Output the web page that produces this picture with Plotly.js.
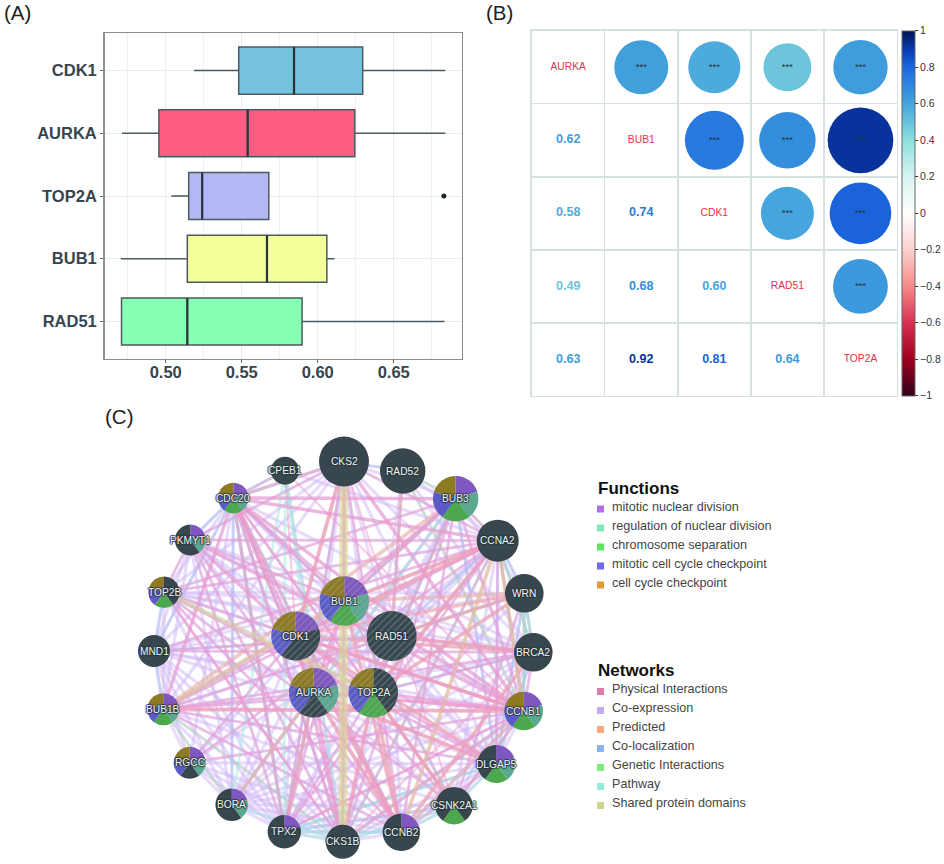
<!DOCTYPE html>
<html><head><meta charset="utf-8">
<script src="https://cdn.plot.ly/plotly-3.0.1.min.js"></script>
<style>html,body{margin:0;padding:0;background:#fff}#chart{width:944px;height:864px}</style>
</head><body><div id="chart"></div>
<script>
// ---------- Panel A data ----------
const boxGenes = ["CDK1","AURKA","TOP2A","BUB1","RAD51"];
const boxLower = [0.5186,0.4712,0.5037,0.4704,0.4709];
const boxQ1    = [0.548,0.4955,0.5151,0.5142,0.4709];
const boxMed   = [0.5844,0.5539,0.524,0.5666,0.5142];
const boxQ3    = [0.6296,0.6244,0.5678,0.606,0.5897];
const boxUpper = [0.684,0.684,0.5678,0.611,0.6834];
const boxColors = ["#75C2DF","#FE5C82","#B3B8F4","#F3FF99","#85FFB2"];
const outlierGene = "TOP2A", outlierValue = 0.683;
// ---------- Panel B data ----------
const corrGenes = ["AURKA","BUB1","CDK1","RAD51","TOP2A"];
const corrRows = [
  [1,0.62,0.58,0.49,0.63],
  [0.62,1,0.74,0.68,0.92],
  [0.58,0.74,1,0.60,0.81],
  [0.49,0.68,0.60,1,0.64],
  [0.63,0.92,0.81,0.64,1]];
const corrTicks = [-1,-0.8,-0.6,-0.4,-0.2,0,0.2,0.4,0.6,0.8,1];
const corrScale = [[-1,"#30001a"],[-0.8,"#a00020"],[-0.6,"#d63050"],[-0.4,"#f58a8a"],[-0.2,"#fbd0d0"],[0,"#ffffff"],
  [0.2,"#d8f4f2"],[0.4,"#8de0dc"],[0.6,"#45a5dc"],[0.8,"#1c68e0"],[0.9,"#0a3ab0"],[1,"#00154f"]];
// ---------- Panel C data ----------
const nodeNames = ["CKS2","RAD52","BUB3","CCNA2","WRN","BRCA2","CCNB1","DLGAP5","CSNK2A1","CCNB2","CKS1B","TPX2","BORA","RGCC","BUB1B","MND1","TOP2B","PKMYT1","CDC20","CPEB1","BUB1","CDK1","RAD51","AURKA","TOP2A"];
const nodeX = [344,402.7,455.7,497.7,524.3,533.3,523.7,496.3,454,401.3,342.7,284.3,231.7,189.7,163.3,154,164,190.3,233.3,285,344.3,295.7,391.7,313.7,373.3];
const nodeY = [461.5,471,498.7,540.7,593.3,652.3,711,764,805.7,832.3,841.7,831.7,804.7,762.7,709.3,651,592.3,540,498,470.7,601,636,636,692.7,692.7];
const nodeR = [25,22.7,22.7,21,19.3,19.3,19.3,19,18.7,18.7,17,16.7,16.3,16,16,16,15.7,15.5,15.3,14,24.7,24.5,25,24.7,24.7];
const queryGenes = ["BUB1","CDK1","RAD51","AURKA","TOP2A"];
const functionNames = ["mitotic nuclear division","regulation of nuclear division","chromosome separation","mitotic cell cycle checkpoint","cell cycle checkpoint"];
const functionKeys = ["#B36BF0","#7DE8B8","#5CE85C","#6B6BF0","#E59A2E"];
const sliceColors = ["#7F57C0","#5BA890","#4CA84C","#5B5BC8","#8E7A22"];
const nodeDark = "#37474D";
const functionMembers = [
  "BUB3 CCNB1 DLGAP5 CCNB2 TPX2 BORA RGCC BUB1B PKMYT1 CDC20 BUB1 CDK1 AURKA",
  "BUB3 CCNB1 DLGAP5 BORA RGCC BUB1B PKMYT1 CDC20 BUB1 AURKA",
  "BUB3 CCNB1 DLGAP5 CSNK2A1 BUB1B TOP2B CDC20 BUB1 TOP2A",
  "BUB3 CCNB1 RGCC BUB1B TOP2B CDC20 BUB1 CDK1 AURKA TOP2A",
  "BUB3 CCNB1 RGCC BUB1B TOP2B CDC20 BUB1 CDK1 AURKA TOP2A"];
const networkNames = ["Physical Interactions","Co-expression","Predicted","Co-localization","Genetic Interactions","Pathway","Shared protein domains"];
const networkKeys = ["#E07BAC","#C4A8F0","#F5A878","#8AB4F0","#7BEE7B","#8FEFDC","#CDD48A"];
// edge lists: first gene of each row is linked to each of the others
const coexpression = [
 "CKS2 RAD52 BUB3 CCNA2 BRCA2 CCNB1 DLGAP5 CCNB2 CKS1B TPX2 BUB1B TOP2B PKMYT1 CDC20 BUB1 CDK1 RAD51 AURKA TOP2A MND1",
 "RAD52 BUB3 CCNA2 CCNB1 RAD51 BRCA2 TOP2A",
 "BUB3 CCNA2 WRN CCNB1 DLGAP5 CCNB2 CKS1B TPX2 BORA BUB1B TOP2B CDC20 BUB1 CDK1 AURKA TOP2A RAD51",
 "CCNA2 WRN BRCA2 CCNB1 DLGAP5 CSNK2A1 CCNB2 CKS1B TPX2 BORA RGCC BUB1B MND1 TOP2B PKMYT1 CDC20 CPEB1 BUB1 CDK1 RAD51 AURKA TOP2A",
 "WRN BRCA2 CCNB1 DLGAP5 CSNK2A1 TPX2 BUB1B MND1 TOP2B BUB1 RAD51 TOP2A",
 "BRCA2 CCNB1 DLGAP5 CSNK2A1 CCNB2 TPX2 BORA BUB1B MND1 TOP2B PKMYT1 CDC20 BUB1 CDK1 RAD51 AURKA TOP2A",
 "CCNB1 DLGAP5 CSNK2A1 CCNB2 CKS1B TPX2 BORA RGCC BUB1B MND1 TOP2B PKMYT1 CDC20 BUB1 CDK1 RAD51 AURKA TOP2A",
 "DLGAP5 CSNK2A1 CCNB2 CKS1B TPX2 BORA RGCC BUB1B MND1 TOP2B PKMYT1 CDC20 BUB1 CDK1 RAD51 AURKA TOP2A",
 "CSNK2A1 CCNB2 CKS1B TPX2 BORA BUB1B TOP2B BUB1 CDK1 AURKA TOP2A",
 "CCNB2 CKS1B TPX2 BORA RGCC BUB1B MND1 TOP2B PKMYT1 CDC20 BUB1 CDK1 RAD51 AURKA TOP2A",
 "CKS1B TPX2 BORA RGCC BUB1B MND1 TOP2B PKMYT1 CDC20 CPEB1 BUB1 CDK1 RAD51 AURKA TOP2A",
 "TPX2 BORA RGCC BUB1B MND1 TOP2B PKMYT1 CDC20 BUB1 CDK1 RAD51 AURKA TOP2A",
 "BORA RGCC BUB1B MND1 PKMYT1 CDC20 BUB1 CDK1 AURKA TOP2A",
 "RGCC BUB1B MND1 CDC20 BUB1 CDK1 RAD51",
 "BUB1B MND1 TOP2B PKMYT1 CDC20 BUB1 CDK1 RAD51 AURKA TOP2A",
 "MND1 TOP2B PKMYT1 CDC20 BUB1 RAD51 TOP2A",
 "TOP2B PKMYT1 CDC20 BUB1 CDK1 RAD51 TOP2A",
 "PKMYT1 CDC20 BUB1 CDK1 RAD51 AURKA TOP2A",
 "CDC20 CPEB1 BUB1 CDK1 RAD51 AURKA TOP2A",
 "BUB1 CDK1 RAD51 AURKA TOP2A","CDK1 RAD51 AURKA TOP2A","RAD51 AURKA TOP2A","AURKA TOP2A"];
const colocalization = [
 "CCNA2 WRN BRCA2 DLGAP5 RAD51 TOP2A CCNB1","WRN BRCA2 RAD51 CCNB1 DLGAP5","BRCA2 RAD51 TOP2A DLGAP5",
 "CDC20 MND1 BORA PKMYT1 CKS1B TPX2 BUB1","TPX2 DLGAP5 CSNK2A1 CCNB2 AURKA","MND1 TOP2B RAD51 BUB1B","BUB3 TOP2A BUB1 DLGAP5","CKS2 TPX2 CKS1B RAD52"];
const pathway = [
 "CPEB1 CDC20 CKS1B TPX2 BORA AURKA","CDC20 CCNB2 CKS2 AURKA TPX2","CSNK2A1 DLGAP5 TOP2A CCNB1 CCNB2 CKS1B",
 "CKS1B CCNA2 CCNB1 BORA TPX2","BUB3 BUB1 AURKA TOP2A","TPX2 AURKA CCNB2 DLGAP5","BUB1 CSNK2A1 CDK1"];
const genetic = ["RAD52 BUB3 RAD51 CCNB1","CCNA2 BRCA2 CCNB1 BUB3","BUB1B BORA CKS1B","AURKA BORA","WRN CCNB1 BRCA2"];
const predicted = ["CDK1 CCNA2 CCNB1 CCNB2 CKS2 DLGAP5","WRN TOP2A RAD51 CDK1 BUB1","BRCA2 RAD51 CCNB2 CDK1","BUB1 CCNA2 CCNB2","CCNA2 CCNB2 CCNB1 TOP2A","TOP2A CCNB2 CSNK2A1 CKS1B","AURKA CCNB2 DLGAP5 TPX2","BUB1B BUB3 CCNB1"];
const physicalHeavy = [
 "CDK1 CKS2 CKS1B CCNB1 CCNB2 CCNA2 CDC20 PKMYT1 TOP2A BUB3",
 "AURKA TPX2 BORA BUB1 CKS1B CCNB1 DLGAP5 CDC20 CCNB2",
 "BUB1 BUB3 BUB1B CDC20 CCNB1 CCNA2 CKS2",
 "CDC20 BUB1B BUB3 CCNB1 CCNA2 CCNB2 CKS2 CKS1B TPX2",
 "RAD51 RAD52 BRCA2 TOP2A",
 "CCNB1 CKS2 CKS1B CCNB2 PKMYT1 TOP2A BUB1B",
 "TOP2A CKS1B CCNA2 BUB3 CSNK2A1"];
const physicalLight = [
 "PKMYT1 CCNB2 TPX2 CCNA2 BUB1 TOP2B CKS2",
 "TOP2B CCNB1 CCNB2 CKS1B BUB3 DLGAP5 CSNK2A1",
 "MND1 RAD51 CCNA2 BRCA2",
 "BUB1B CCNA2 AURKA TOP2A CDK1 CCNB2 RAD51 BRCA2",
 "TPX2 CCNB1 CCNA2 CKS2 BUB1 TOP2A",
 "DLGAP5 CCNB2 BUB1B CDK1 CCNA2 TOP2A",
 "CSNK2A1 CDK1 CKS2 BUB1 CCNB1 CDC20",
 "CKS1B CKS2 CCNA2 BUB3","BRCA2 CKS1B TOP2A CDK1 CCNB1 CCNB2",
 "WRN RAD51 TOP2A CDK1 CSNK2A1","RGCC CDK1 CCNB1 CCNA2","CPEB1 CDK1 CCNB1 CDC20",
 "CCNA2 CKS2 BUB3 TOP2B CCNB1","CCNB1 BUB3 TPX2 CSNK2A1 AURKA","CKS1B TOP2B PKMYT1 BUB1","CCNB2 CKS2 BUB3 BUB1 TOP2A","CDC20 TOP2A AURKA RAD51"];
const sharedHeavy = ["CKS2 CKS1B"];
const sharedMedium = ["BUB1 BUB1B","TOP2A TOP2B"];
const sharedLight = ["CCNA2 CCNB1 CCNB2","CCNB1 CCNB2","AURKA BORA"];

// ---------- helpers ----------
const W = 944, H = 864;
const hex = s => [1,3,5].map(i => parseInt(s.substr(i,2),16));
function corrColor(v){
  for(let i=1;i<corrScale.length;i++){
    if(v<=corrScale[i][0]){
      const a=corrScale[i-1],b=corrScale[i],t=(v-a[0])/(b[0]-a[0]);
      const c=hex(a[1]),d=hex(b[1]);
      return "rgb("+c.map((x,k)=>Math.round(x+(d[k]-x)*t)).join(",")+")";
    }
  }
  return corrScale[corrScale.length-1][1];
}
const traces = [];
const annotations = [];

// ---------- Panel A ----------
boxGenes.forEach((g,i)=>{
  traces.push({type:"box",orientation:"h",xaxis:"x",yaxis:"y",y:[i],q1:[boxQ1[i]],median:[boxMed[i]],q3:[boxQ3[i]],
    lowerfence:[boxLower[i]],upperfence:[boxUpper[i]],width:0.75,whiskerwidth:0,fillcolor:boxColors[i],
    line:{color:"#4c5a5f",width:1.5},boxpoints:false,hoverinfo:"skip",showlegend:false});
  traces.push({type:"scatter",mode:"lines",xaxis:"x",yaxis:"y",x:[boxMed[i],boxMed[i]],y:[i-0.375,i+0.375],
    line:{color:"#26343a",width:2.2},hoverinfo:"skip",showlegend:false});
});
traces.push({type:"scatter",mode:"markers",xaxis:"x",yaxis:"y",x:[outlierValue],y:[boxGenes.indexOf(outlierGene)],
  marker:{color:"#1c262a",size:5},hoverinfo:"skip",showlegend:false});

// ---------- Panel B ----------
const upX=[],upY=[],upV=[],lowX=[],lowY=[],lowV=[],diagX=[],diagY=[],diagT=[];
corrRows.forEach((row,r)=>row.forEach((v,c)=>{
  if(c>r){upX.push(c+0.5);upY.push(r+0.5);upV.push(v);}
  else if(c<r){lowX.push(c+0.5);lowY.push(r+0.5);lowV.push(v);}
  else{diagX.push(c+0.5);diagY.push(r+0.5);diagT.push(corrGenes[r]);}
}));
traces.push({type:"scatter",mode:"markers",xaxis:"x2",yaxis:"y2",x:upX,y:upY,hoverinfo:"skip",showlegend:false,
  marker:{size:upV,sizemode:"area",sizeref:2/(68.5*68.5),opacity:1,color:upV,cmin:-1,cmax:1,
    colorscale:corrScale.map(s=>[(s[0]+1)/2,s[1]]),line:{width:0},
    colorbar:{x:902.3/W,xanchor:"left",y:1-30.7/H,yanchor:"top",lenmode:"pixels",len:365.3,thicknessmode:"pixels",thickness:13,
      xpad:0,ypad:0,tickmode:"array",tickvals:corrTicks,ticks:"outside",ticklen:3,tickcolor:"#333",tickwidth:1,
      outlinecolor:"#666",outlinewidth:1,tickfont:{family:"Liberation Sans",size:10.5,color:"#333"}}}});
traces.push({type:"scatter",mode:"text",xaxis:"x2",yaxis:"y2",x:upX,y:upY,text:upV.map(()=>"***"),textposition:"middle center",
  textfont:{family:"Liberation Sans",size:9.5,color:"#26343a"},hoverinfo:"skip",showlegend:false});
traces.push({type:"scatter",mode:"text",xaxis:"x2",yaxis:"y2",x:lowX,y:lowY,text:lowV.map(v=>v.toFixed(2)),textposition:"middle center",
  textfont:{family:"Liberation Sans",size:12.5,weight:"bold",color:lowV.map(corrColor)},hoverinfo:"skip",showlegend:false});
traces.push({type:"scatter",mode:"text",xaxis:"x2",yaxis:"y2",x:diagX,y:diagY,text:diagT,textposition:"middle center",
  textfont:{family:"Liberation Sans",size:10.3,color:"#E8304A"},hoverinfo:"skip",showlegend:false});

// ---------- Panel C edges ----------
const pos = {}; nodeNames.forEach((n,i)=>pos[n]=[nodeX[i],nodeY[i]]);
function addEdges(rows,color,width){
  rows.forEach(row=>{
    const g=row.split(" "),xs=[],ys=[];
    g.slice(1).forEach(o=>{xs.push(pos[g[0]][0],pos[o][0],null);ys.push(pos[g[0]][1],pos[o][1],null);});
    if(xs.length) traces.push({type:"scatter",mode:"lines",xaxis:"x3",yaxis:"y3",x:xs,y:ys,line:{color:color,width:width},hoverinfo:"skip",showlegend:false});
  });
}
addEdges(coexpression,"rgba(205,178,245,0.46)",3.2);
addEdges(colocalization,"rgba(160,195,245,0.45)",2.6);
addEdges(pathway,"rgba(160,235,222,0.5)",2.8);
addEdges(genetic,"rgba(160,235,160,0.5)",1.8);
addEdges(predicted,"rgba(245,180,140,0.42)",4.2);
addEdges(physicalLight,"rgba(240,155,205,0.5)",2.2);
addEdges(physicalHeavy,"rgba(240,150,200,0.52)",3.4);
addEdges(sharedLight,"rgba(215,215,150,0.4)",2);
addEdges(sharedMedium,"rgba(215,212,150,0.5)",5);
addEdges(sharedHeavy,"rgba(218,214,155,0.65)",9);

// ---------- Panel C nodes ----------
nodeNames.forEach((n,i)=>{
  const r=nodeR[i],isQ=queryGenes.includes(n);
  const cols=sliceColors.map((c,k)=>functionMembers[k].split(" ").includes(n)?c:nodeDark);
  // start at a colour change so that runs of one colour merge into a single slice
  let start=0;
  for(let k=0;k<5;k++){ if(cols[k]!==cols[(k+4)%5]){start=k;break;} }
  const colors=[],values=[];
  for(let k=0;k<5;k++){
    const c=cols[(start+k)%5];
    if(colors.length && colors[colors.length-1]===c) values[values.length-1]+=1;
    else {colors.push(c);values.push(1);}
  }
  const marker={colors:colors,line:{width:0}};
  if(isQ) marker.pattern={shape:"/",size:5,solidity:0.22,fgcolor:"#9fb0b5",fgopacity:0.4,fillmode:"overlay"};
  traces.push({type:"pie",values:values,sort:false,direction:"clockwise",rotation:start*72,textinfo:"none",hoverinfo:"skip",showlegend:false,
    marker:marker,domain:{x:[(nodeX[i]-r)/W,(nodeX[i]+r)/W],y:[1-(nodeY[i]+r)/H,1-(nodeY[i]-r)/H]}});
  annotations.push({xref:"x3",yref:"y3",x:nodeX[i],y:nodeY[i],text:n,showarrow:false,
    font:{family:"Liberation Sans",size:10.2,color:"#f0f4f5",shadow:"1px 0 1px #27353b, -1px 0 1px #27353b, 0 1px 1px #27353b, 0 -1px 1px #27353b"}});
});

// ---------- Panel C legends ----------
function addLegend(names,keys,top,step,title,titleY){
  traces.push({type:"scatter",mode:"markers",xaxis:"x3",yaxis:"y3",x:names.map(()=>600.5),y:names.map((_,i)=>top+1.5+i*step),
    cliponaxis:false,marker:{symbol:"square",size:7,color:keys,line:{width:0}},hoverinfo:"skip",showlegend:false});
  traces.push({type:"scatter",mode:"text",xaxis:"x3",yaxis:"y3",x:names.map(()=>612),y:names.map((_,i)=>top+i*step),
    text:names,textposition:"middle right",cliponaxis:false,
    textfont:{family:"Liberation Sans",size:12.6,color:"#444"},hoverinfo:"skip",showlegend:false});
  annotations.push({xref:"x3",yref:"y3",x:597.5,y:titleY,xanchor:"left",xshift:-2,text:"<b>"+title+"</b>",showarrow:false,
    font:{family:"Liberation Sans",size:17,color:"#111"}});
}
addLegend(functionNames,functionKeys,507.5,19,"Functions",488.5);
addLegend(networkNames,networkKeys,690,19,"Networks",670.5);

// ---------- panel letters ----------
[["(A)",1.5,13],["(B)",484,13],["(C)",103,417]].forEach(p=>annotations.push({xref:"paper",yref:"paper",x:p[1]/W,y:1-p[2]/H,xanchor:"left",yanchor:"middle",
  text:p[0],showarrow:false,font:{family:"Liberation Sans",size:20.5,color:"#222"}}));

const layout = {
  width:W,height:H,margin:{l:0,r:0,t:0,b:0,pad:0},paper_bgcolor:"#fff",plot_bgcolor:"rgba(0,0,0,0)",showlegend:false,
  font:{family:"Liberation Sans"},annotations:annotations,
  xaxis:{domain:[104.5/W,461.5/W],range:[0.4597,0.6946],anchor:"y",tickvals:[0.5,0.55,0.6,0.65],tickformat:".2f",
    showgrid:true,gridcolor:"#e8ecee",gridwidth:1,minor:{dtick:0.025,showgrid:true,gridcolor:"#eff2f3",gridwidth:1,ticks:""},
    showline:true,mirror:true,linecolor:"#8a8f90",linewidth:1.4,ticks:"outside",ticklen:3,tickcolor:"#666",zeroline:false,ticklabelstandoff:-5,
    tickfont:{family:"Liberation Sans",size:16.5,weight:"bold",color:"#36454F"}},
  yaxis:{domain:[1-359/H,1-33/H],range:[4.6,-0.6],anchor:"x",tickmode:"array",tickvals:[0,1,2,3,4],ticktext:boxGenes,
    showgrid:true,gridcolor:"#e8ecee",gridwidth:1,showline:true,mirror:true,linecolor:"#8a8f90",linewidth:1.4,ticks:"outside",ticklen:3,tickcolor:"#666",zeroline:false,
    tickfont:{family:"Liberation Sans",size:16.5,weight:"bold",color:"#36454F"}},
  xaxis2:{domain:[531.7/W,897/W],range:[0,5],anchor:"y2",tickvals:[0,1,2,3,4,5],showticklabels:false,ticks:"",showgrid:true,gridcolor:"#d6e0e0",gridwidth:1.4,
    showline:true,mirror:true,linecolor:"#d6e0e0",linewidth:1.4,zeroline:false},
  yaxis2:{domain:[1-396/H,1-30.7/H],range:[5,0],anchor:"x2",tickvals:[0,1,2,3,4,5],showticklabels:false,ticks:"",showgrid:true,gridcolor:"#d6e0e0",gridwidth:1.4,
    showline:true,mirror:true,linecolor:"#d6e0e0",linewidth:1.4,zeroline:false},
  xaxis3:{domain:[0,1],range:[0,W],anchor:"y3",visible:false},
  yaxis3:{domain:[0,1-402/H],range:[H,402],anchor:"x3",visible:false}
};
Plotly.newPlot("chart",traces,layout,{displayModeBar:false,staticPlot:true});
</script></body></html>
